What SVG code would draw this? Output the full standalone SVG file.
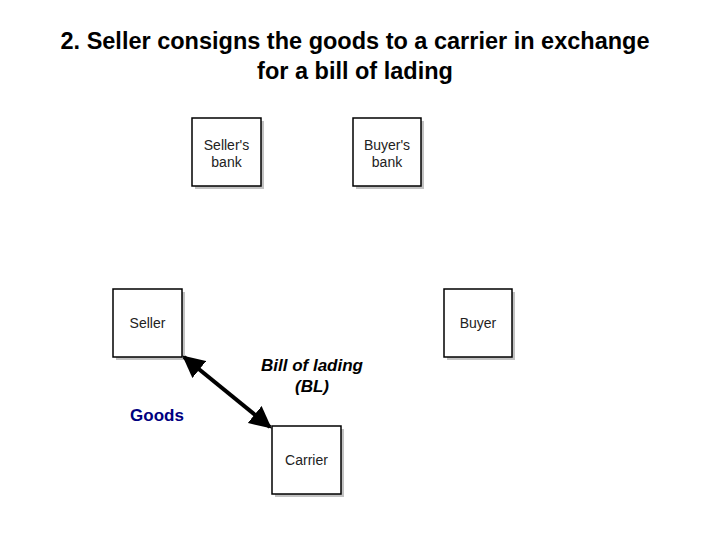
<svg xmlns="http://www.w3.org/2000/svg" width="720" height="540" viewBox="0 0 720 540">
<style>
.box{fill:#fff;stroke:#000;stroke-width:1.5}
.sh{fill:#999;opacity:0.6}
.nl{font-family:"Liberation Sans",Arial,sans-serif;font-size:14px;fill:#222;text-anchor:middle}
.title{font-family:"Liberation Sans",Arial,sans-serif;font-size:23.5px;font-weight:bold;text-anchor:middle;fill:#000}
</style>
<defs>
<marker id="ah" viewBox="0 0 10 10" refX="9" refY="5" markerWidth="5.5" markerHeight="5.5" orient="auto-start-reverse" markerUnits="strokeWidth">
<path d="M0,0 L10,5 L0,10 z" fill="#000"/>
</marker>
</defs>
<rect width="720" height="540" fill="#fff"/>
<text class="title" x="355" y="49">2. Seller consigns the goods to a carrier in exchange</text>
<text class="title" x="355" y="79">for a bill of lading</text>
<g id="sellers-bank">
<rect class="sh" x="195" y="121" width="69" height="68"/>
<rect class="box" x="192" y="118" width="69" height="68"/>
<text class="nl" x="226.5" y="150">Seller's</text>
<text class="nl" x="226.5" y="167">bank</text>
</g>
<g id="buyers-bank">
<rect class="sh" x="356" y="121" width="68" height="68"/>
<rect class="box" x="353" y="118" width="68" height="68"/>
<text class="nl" x="387" y="150">Buyer's</text>
<text class="nl" x="387" y="167">bank</text>
</g>
<g id="seller">
<rect class="sh" x="116" y="292" width="69" height="68"/>
<rect class="box" x="113" y="289" width="69" height="68"/>
<text class="nl" x="147.5" y="328">Seller</text>
</g>
<g id="buyer">
<rect class="sh" x="447" y="292" width="68" height="68"/>
<rect class="box" x="444" y="289" width="68" height="68"/>
<text class="nl" x="478" y="328">Buyer</text>
</g>
<g id="carrier">
<rect class="sh" x="275" y="429" width="69" height="68"/>
<rect class="box" x="272" y="426" width="69" height="68"/>
<text class="nl" x="306.5" y="465">Carrier</text>
</g>
<g id="connectors">
<line x1="184" y1="357" x2="270" y2="427" stroke="#000" stroke-width="4" marker-start="url(#ah)" marker-end="url(#ah)"/>
</g>
<g id="labels" font-family="Liberation Sans,Arial,sans-serif" font-weight="bold" font-size="17" text-anchor="middle">
<text x="312" y="371" font-style="italic">Bill of lading</text>
<text x="312" y="392" font-style="italic">(BL)</text>
<text x="157" y="421" fill="#000080">Goods</text>
</g>
</svg>
